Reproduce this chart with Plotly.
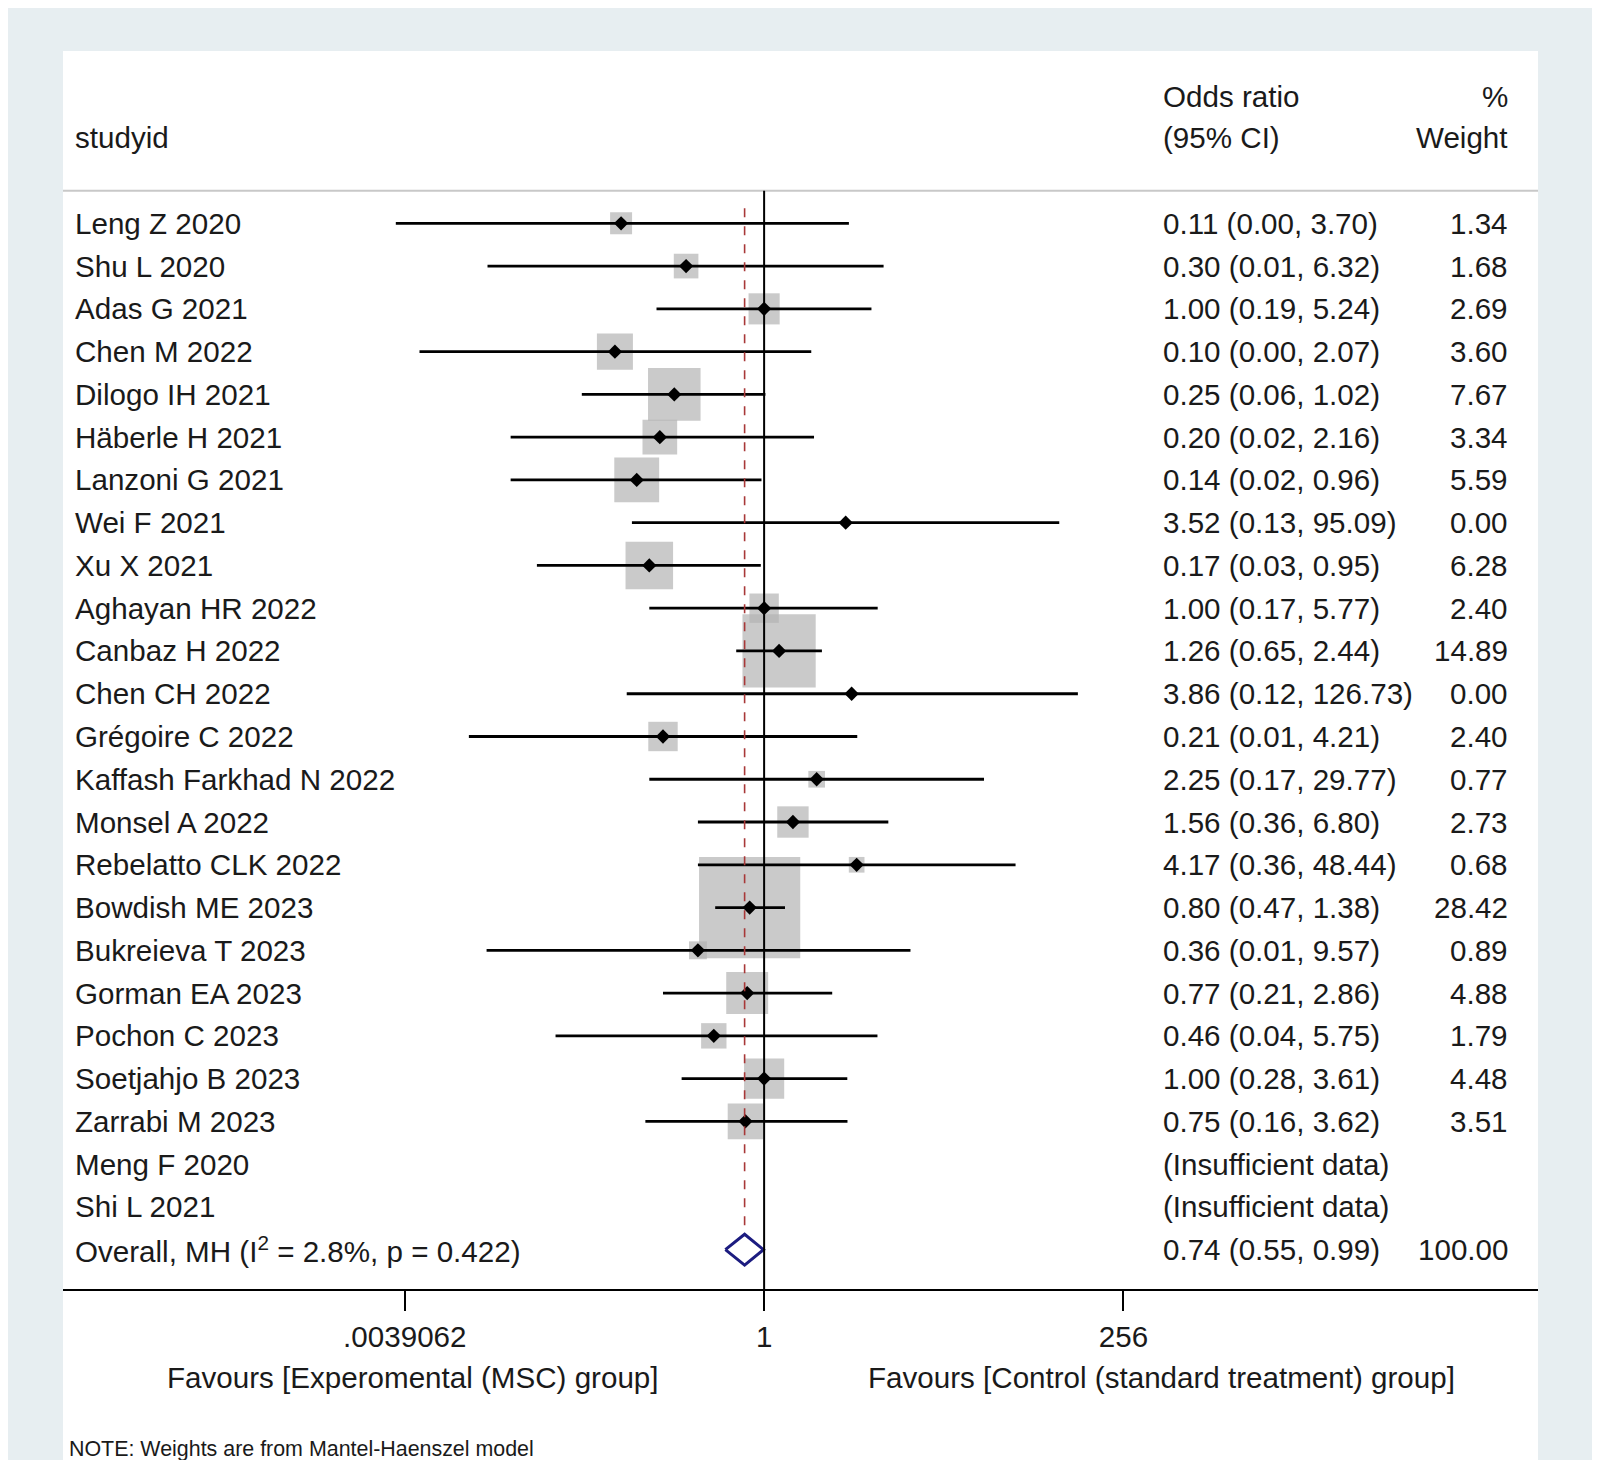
import numpy as np
import plotly.graph_objects as go

# data
studies = ["Leng Z 2020", "Shu L 2020", "Adas G 2021", "Chen M 2022", "Dilogo IH 2021",
           "Häberle H 2021", "Lanzoni G 2021", "Wei F 2021", "Xu X 2021", "Aghayan HR 2022",
           "Canbaz H 2022", "Chen CH 2022", "Grégoire C 2022", "Kaffash Farkhad N 2022",
           "Monsel A 2022", "Rebelatto CLK 2022", "Bowdish ME 2023", "Bukreieva T 2023",
           "Gorman EA 2023", "Pochon C 2023", "Soetjahjo B 2023", "Zarrabi M 2023",
           "Meng F 2020", "Shi L 2021"]
odds = [0.11, 0.30, 1.00, 0.10, 0.25, 0.20, 0.14, 3.52, 0.17, 1.00, 1.26, 3.86, 0.21,
        2.25, 1.56, 4.17, 0.80, 0.36, 0.77, 0.46, 1.00, 0.75, None, None]
lower = [0.0034, 0.014, 0.19, 0.0049, 0.06, 0.02, 0.02, 0.13, 0.03, 0.17, 0.65, 0.12, 0.0105,
         0.17, 0.36, 0.36, 0.47, 0.0138, 0.21, 0.04, 0.28, 0.16, None, None]
upper = [3.70, 6.32, 5.24, 2.07, 1.02, 2.16, 0.96, 95.09, 0.95, 5.77, 2.44, 126.73, 4.21,
         29.77, 6.80, 48.44, 1.38, 9.57, 2.86, 5.75, 3.61, 3.62, None, None]
weights = [1.34, 1.68, 2.69, 3.60, 7.67, 3.34, 5.59, 0.00, 6.28, 2.40, 14.89, 0.00, 2.40,
           0.77, 2.73, 0.68, 28.42, 0.89, 4.88, 1.79, 4.48, 3.51, None, None]
overall = dict(label="Overall, MH (I<sup>2</sup> = 2.8%, p = 0.422)", odds=0.74, lower=0.55, upper=0.99, weight=100.00)
tick_vals = [1 / 256, 1, 256]
tick_text = [".0039062", "1", "256"]

S = 1600 / 1568  # reference pixel scale
FONT = "Liberation Sans, Arial, sans-serif"
TXT = "#1a1a1a"

n = len(studies) + 1
ypos = [n - i for i in range(len(studies))]
y_over = 1

fig = go.Figure()

# weight boxes
bx, by, bs = [], [], []
for o, w, y in zip(odds, weights, ypos):
    if o is not None and w > 0:
        bx.append(np.log2(o)); by.append(y); bs.append(18.6 * np.sqrt(w) * S)
fig.add_trace(go.Scatter(x=bx, y=by, mode="markers",
                         marker=dict(symbol="square", size=bs, color="#b4b4b4", line=dict(width=0)),
                         hoverinfo="skip"))

# CI lines
lx, ly = [], []
for lo, hi, y in zip(lower, upper, ypos):
    if lo is not None:
        lx += [np.log2(lo), np.log2(hi), None]; ly += [y, y, None]
fig.add_trace(go.Scatter(x=lx, y=ly, mode="lines", line=dict(color="black", width=2.8), hoverinfo="skip"))

# point estimates
px = [np.log2(o) for o in odds if o is not None]
py = [y for o, y in zip(odds, ypos) if o is not None]
fig.add_trace(go.Scatter(x=px, y=py, mode="markers",
                         marker=dict(symbol="diamond", size=11, color="black"), hoverinfo="skip"))

# overall diamond
dx = [np.log2(overall["lower"]), np.log2(overall["odds"]), np.log2(overall["upper"]),
      np.log2(overall["odds"]), np.log2(overall["lower"])]
dy = [y_over, y_over + 0.36, y_over, y_over - 0.36, y_over]
fig.add_trace(go.Scatter(x=dx, y=dy, mode="lines", line=dict(color="#1c1c80", width=3), hoverinfo="skip"))

# reference lines
y_head = 25.76
fig.add_shape(type="line", xref="paper", x0=0, x1=1, y0=y_head, y1=y_head,
              line=dict(color="#c8c8c8", width=2))
fig.add_shape(type="line", x0=0, x1=0, y0=y_head, y1=0.046, line=dict(color="black", width=2))
fig.add_shape(type="line", x0=np.log2(overall["odds"]), x1=np.log2(overall["odds"]), y0=25.35, y1=1.4,
              line=dict(color="#a83838", width=1.6, dash="dash"))

fs = 29 * S
x_name, x_ci, x_w = 10 / 1445, 1076 / 1445, 1418 / 1445


def txt(x, y, s, anchor="left", size=fs, xref="paper", yref="y"):
    fig.add_annotation(x=x, y=y, xref=xref, yref=yref, text=s, showarrow=False, xanchor=anchor,
                       yanchor="middle", font=dict(family=FONT, size=size, color=TXT))


# header
txt(x_name, 27.0, "studyid")
txt(x_ci, 27.96, "Odds ratio")
txt(x_ci, 27.0, "(95% CI)")
txt(x_w, 27.96, "%", "right")
txt(x_w, 27.0, "Weight", "right")

for s, o, lo, hi, w, y in zip(studies, odds, lower, upper, weights, ypos):
    txt(x_name, y, s)
    if o is None:
        txt(x_ci, y, "(Insufficient data)")
    else:
        txt(x_ci, y, f"{o:.2f} ({lo:.2f}, {hi:.2f})")
        txt(x_w, y, f"{w:.2f}", "right")
txt(x_name, y_over, overall["label"])
txt(x_ci, y_over, f"{overall['odds']:.2f} ({overall['lower']:.2f}, {overall['upper']:.2f})")
txt(x_w, y_over, f"{overall['weight']:.2f}", "right")

# axis titles (paper y, below the axis)
txt(-7.82, 0.0641, "Favours [Experomental (MSC) group]", "center", xref="x", yref="paper")
txt(8.84, 0.0641, "Favours [Control (standard treatment) group]", "center", xref="x", yref="paper")
txt(4 / 1445, 0.0137, "NOTE: Weights are from Mantel-Haenszel model", size=21 * S, yref="paper")

y_frac = 0.1253
fig.update_layout(
    width=1600, height=1460,
    margin=dict(l=54 * S, r=69 * S, t=42 * S, b=0),
    paper_bgcolor="#e7eef1", plot_bgcolor="white",
    showlegend=False,
    xaxis=dict(range=[-15.61, 17.23], tickvals=[np.log2(v) for v in tick_vals], ticktext=tick_text,
               showgrid=False, zeroline=False, showline=True, linecolor="black", linewidth=2,
               ticks="outside", ticklen=20, tickwidth=2, tickcolor="black",
               anchor="free", position=y_frac,
               tickfont=dict(family=FONT, size=fs, color=TXT)),
    yaxis=dict(range=[0.046, 29.03], domain=[y_frac, 1], visible=False),
)
# white panel under the axis region
fig.add_shape(type="rect", xref="paper", yref="paper", x0=0, x1=1, y0=0, y1=y_frac,
              fillcolor="white", line=dict(width=0), layer="below")

fig.write_html("out.html")
